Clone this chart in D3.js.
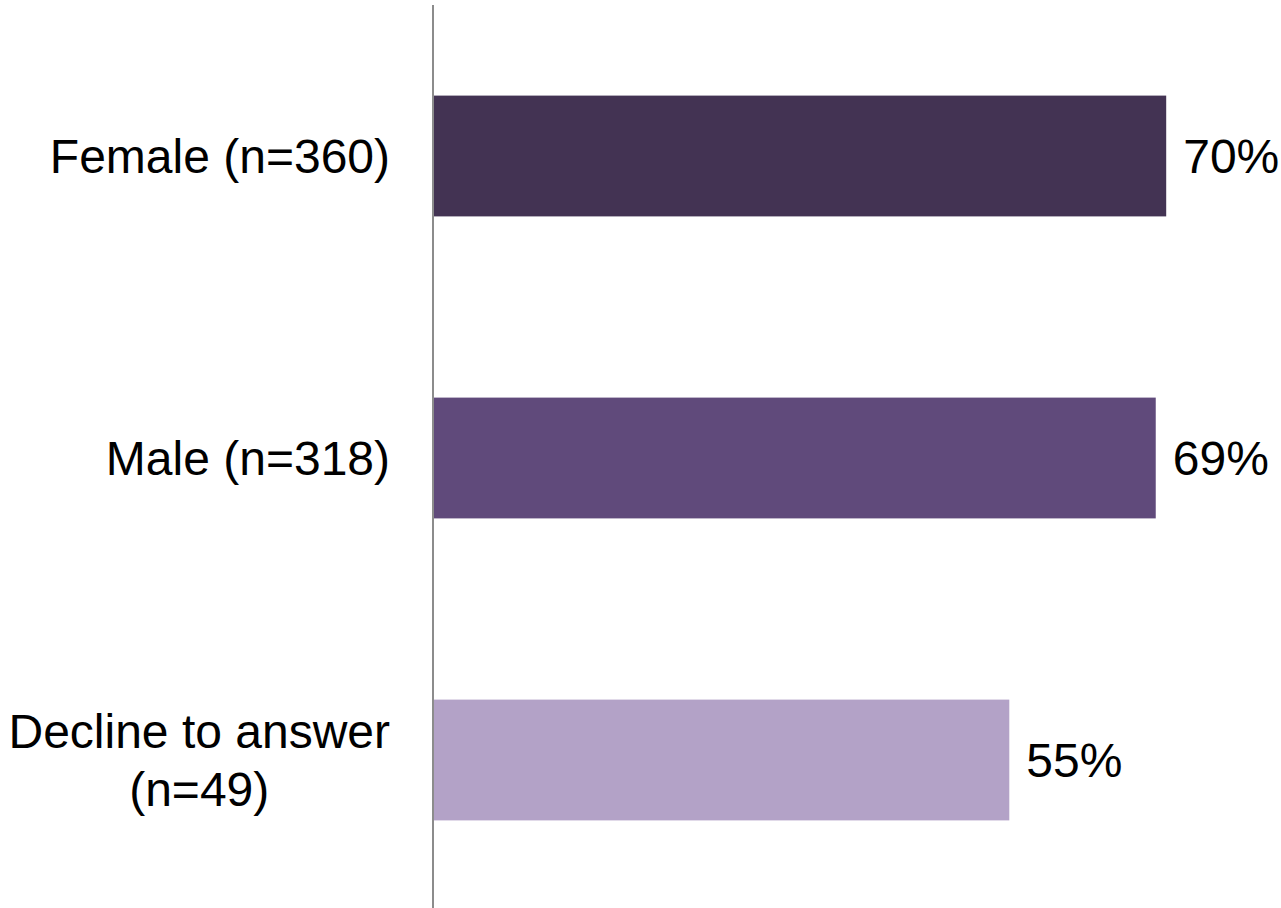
<!DOCTYPE html>
<html>
<head>
<meta charset="utf-8">
<script src="https://cdn.jsdelivr.net/npm/d3@7/dist/d3.min.js"></script>
<style>
  html, body { margin: 0; padding: 0; background: #fff; }
  svg { display: block; }
  text { font-family: "Liberation Sans", Arial, sans-serif; fill: #000; }
</style>
</head>
<body>
<svg id="chart" width="1281" height="908"></svg>
<script>
// Share of respondents by gender group
const categories = ["Female (n=360)", "Male (n=318)", "Decline to answer (n=49)"];
const categoryLines = [["Female (n=360)"], ["Male (n=318)"], ["Decline to answer", "(n=49)"]];
const values = [70, 69, 55];
const barColors = ["#433353", "#604A7B", "#B3A2C7"];

const W = 1281, H = 908;
const svg = d3.select("#chart");

const y = d3.scaleBand()
  .domain(categories)
  .range([5, 911])
  .paddingInner(0.6)
  .paddingOuter(0.3);

const x = d3.scaleLinear()
  .domain([0, 100])
  .range([434, 1480]);

// bars
svg.append("g")
  .selectAll("rect")
  .data(categories)
  .join("rect")
  .attr("x", x(0))
  .attr("y", d => y(d))
  .attr("width", (d, i) => x(values[i]) - x(0))
  .attr("height", y.bandwidth())
  .attr("fill", (d, i) => barColors[i]);

// value labels
svg.append("g")
  .selectAll("text")
  .data(categories)
  .join("text")
  .attr("x", (d, i) => x(values[i]) + 17)
  .attr("y", d => y(d) + y.bandwidth() / 2)
  .attr("dy", "0.36em")
  .attr("font-size", 48)
  .text((d, i) => values[i] + "%");

// category axis line
svg.append("line")
  .attr("x1", x(0) - 1).attr("x2", x(0) - 1)
  .attr("y1", 5).attr("y2", H)
  .attr("stroke", "#8C8C8C")
  .attr("stroke-width", 2);

// category labels (wrapped lines centred on each other, block right-aligned)
const labelRight = 390;
const lineGap = 58;
categories.forEach((c, i) => {
  const lines = categoryLines[i];
  const g = svg.append("g");
  const cy = y(c) + y.bandwidth() / 2;
  const texts = lines.map((ln, k) => g.append("text")
    .attr("font-size", 48)
    .attr("y", cy + (k - (lines.length - 1) / 2) * lineGap)
    .attr("dy", "0.36em")
    .text(ln));
  const widths = texts.map(t => t.node().getComputedTextLength());
  const maxW = d3.max(widths);
  const centre = labelRight - maxW / 2;
  texts.forEach(t => t.attr("x", centre).attr("text-anchor", "middle"));
});
</script>
</body>
</html>
